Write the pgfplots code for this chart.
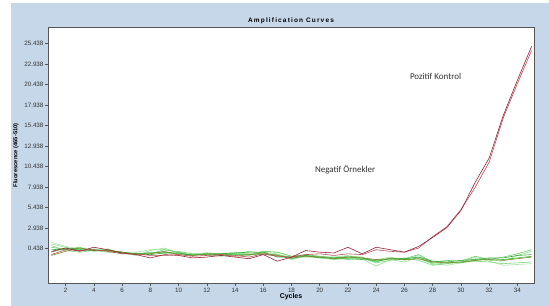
\documentclass[border=0pt]{standalone}
\usepackage{fontspec}
\setmainfont{Liberation Sans}
\newfontfamily\annfont{Carlito}
\newfontfamily\titlefont[LetterSpace=18]{Liberation Sans Bold}
\usepackage{pgfplots}
\usepackage{pgfplotstable}
\pgfplotsset{compat=1.18}
\definecolor{bgblue}{HTML}{C6D7EA}
\definecolor{axgray}{HTML}{555555}
\definecolor{txtgray}{HTML}{333333}
\definecolor{redA}{HTML}{9B2335}
\definecolor{redB}{HTML}{B4505A}
\definecolor{olive}{HTML}{7F8A2A}
\definecolor{gA}{HTML}{90E090}
\definecolor{gB}{HTML}{66CC66}
\definecolor{gC}{HTML}{44BB44}
\definecolor{gD}{HTML}{7FD77F}
\definecolor{gE}{HTML}{33AA33}
\definecolor{gF}{HTML}{A8E6A8}

\pgfplotstableread{
c  rA    rB    ol    g1    g2    g3    g4    g5    g6
1  0.1  -0.3  -0.4   1.0   0.6   0.3   0.8   0.0   1.2
2  0.5   0.3   0.1   0.6   0.3   0.4   0.2   0.5   0.7
3  0.1   0.2   0.5   0.2   0.6   0.3   0.0   0.4   0.4
4  0.6   0.3   0.2   0.3   0.1   0.2   0.2   0.3   0.4
5  0.3   0.1   0.2   0.1   0.4   0.2   0.0   0.2   0.3
6 -0.1  -0.2   0.0  -0.1  -0.2   0.0  -0.1   0.0   0.0
7 -0.3  -0.2  -0.3  -0.4  -0.1  -0.2  -0.3  -0.2   0.0
8 -0.7  -0.4  -0.2   0.2  -0.2  -0.1   0.0  -0.3   0.3
9 -0.3  -0.4   0.1   0.5   0.3   0.0  -0.1  -0.1   0.3
10 -0.4 -0.3  -0.3  -0.1   0.0  -0.2   0.1  -0.1   0.0
11 -0.7 -0.5  -0.4  -0.3  -0.4  -0.3  -0.2  -0.4  -0.2
12 -0.6 -0.4  -0.2  -0.2  -0.1  -0.3  -0.3  -0.2  -0.1
13 -0.4 -0.3  -0.3  -0.4  -0.2  -0.3  -0.5  -0.2  -0.2
14 -0.6 -0.4  -0.5  -0.1  -0.2  -0.3  -0.2  -0.1   0.0
15 -0.8 -0.6  -0.3  -0.2  -0.4  -0.3   0.1   0.0  -0.3
16 -0.3 -0.2  -0.1   0.0   0.1  -0.3  -0.2   0.0   0.1
17 -1.1 -0.5  -0.4  -0.2   0.0  -0.4  -0.3  -0.6   0.0
18 -0.6 -0.6  -0.7  -0.9  -0.5  -0.8  -0.6  -0.6  -0.5
19  0.2 -0.3  -0.5  -0.5  -0.3  -0.4  -0.6  -0.4  -0.5
20  0.0 -0.2  -0.6  -0.7  -0.5  -0.6  -0.6  -0.7  -0.5
21 -0.1 -0.4  -0.8  -0.9  -0.7  -0.8  -0.6  -0.7  -0.6
22  0.6 -0.2  -0.6  -0.7  -0.5  -0.8  -0.9  -0.6  -0.4
23 -0.2 -0.3  -0.7  -0.8  -0.6  -0.9  -0.7  -0.7  -0.8
24  0.6  0.3  -0.9  -1.7  -1.2  -1.0  -1.3  -1.1  -0.9
25  0.3  0.1  -0.8  -0.9  -0.7  -0.8  -1.0  -0.8  -0.6
26  0.0  0.0  -0.9  -1.2  -0.8  -0.9  -0.7  -0.8  -1.0
27  0.7  0.5  -0.8  -0.6  -0.3  -0.8  -1.0  -0.6  -0.4
28  1.8  1.9  -1.2  -1.5  -1.2  -1.3  -1.6  -1.1  -1.4
29  3.0  3.1  -1.3  -1.3  -1.0  -1.3  -1.4  -1.2  -1.6
30  5.1  5.2  -1.2  -1.2  -1.1  -1.3  -1.2  -1.0  -1.3
31  8.5  7.9  -1.0  -0.8  -0.5  -1.0  -1.1  -0.9  -0.6
32 11.5 11.0  -0.9  -1.0  -0.9  -0.8  -1.2  -0.7  -1.1
33 16.7 16.4  -1.0  -1.1  -0.6  -0.9  -1.4  -0.7  -1.6
34 21.0 20.6  -0.8  -0.4  -0.2  -0.7  -1.3  -0.4  -1.5
35 25.1 24.6  -0.6   0.1   0.3  -0.5  -1.2  -0.3  -1.4
}\amp

\begin{document}
\begin{tikzpicture}
\path[fill=white] (0,0) rectangle (549bp,306bp);
\fill[bgblue] (10.5bp,0) rectangle (549bp,302.6bp);
\begin{axis}[
  at={(48bp,23bp)}, anchor=south west,
  width=486bp, height=255.5bp, scale only axis,
  xmin=0.76, xmax=35.17, ymin=-3.76, ymax=27.4,
  axis background/.style={fill=white},
  axis line style={axgray, line width=0.6pt},
  xtick={2,4,...,34},
  ytick={0.438,2.938,5.438,7.938,10.438,12.938,15.438,17.938,20.438,22.938,25.438},
  yticklabels={0.438,2.938,5.438,7.938,10.438,12.938,15.438,17.938,20.438,22.938,25.438},
  xtick pos=bottom, ytick pos=left,
  tick align=outside, major tick length=2.5bp,
  tick style={axgray, line width=0.5pt},
  /pgf/number format/assume math mode=true,
  tick label style={font=\fontsize{6.3}{7}\selectfont, text=txtgray},
  xticklabel style={yshift=1bp},
  yticklabel style={xshift=1.5bp},
  title={\titlefont\fontsize{6.5}{7}\selectfont Amplification Curves},
  title style={at={(axis description cs:0.5,1)}, anchor=south, yshift=-6pt, text=black},
  xlabel={\bfseries Cycles},
  xlabel style={font=\fontsize{7}{8}\selectfont, at={(axis description cs:0.5,0)}, anchor=center, yshift=-14bp},
  ylabel={\bfseries Fluorescence (465-510)},
  ylabel style={font=\fontsize{5.8}{7}\selectfont, at={(axis description cs:-0.066,0.5)}, anchor=center, rotate=0},
  every axis plot/.append style={line width=0.6pt},
  clip=true,
]
\addplot[gF] table[x=c,y=g6]{\amp};
\addplot[gA] table[x=c,y=g1]{\amp};
\addplot[gD] table[x=c,y=g4]{\amp};
\addplot[gB] table[x=c,y=g2]{\amp};
\addplot[gC] table[x=c,y=g3]{\amp};
\addplot[gE] table[x=c,y=g5]{\amp};
\addplot[olive] table[x=c,y=ol]{\amp};
\addplot[redB] table[x=c,y=rB]{\amp};
\addplot[redA] table[x=c,y=rA]{\amp};
\node[font=\annfont\fontsize{9}{10}\selectfont, text=txtgray] at (axis cs:28.2,21.4) {Pozitif Kontrol};
\node[font=\annfont\fontsize{9}{10}\selectfont, text=txtgray] at (axis cs:21.8,10.0) {Negatif Örnekler};
\end{axis}
\end{tikzpicture}
\end{document}
